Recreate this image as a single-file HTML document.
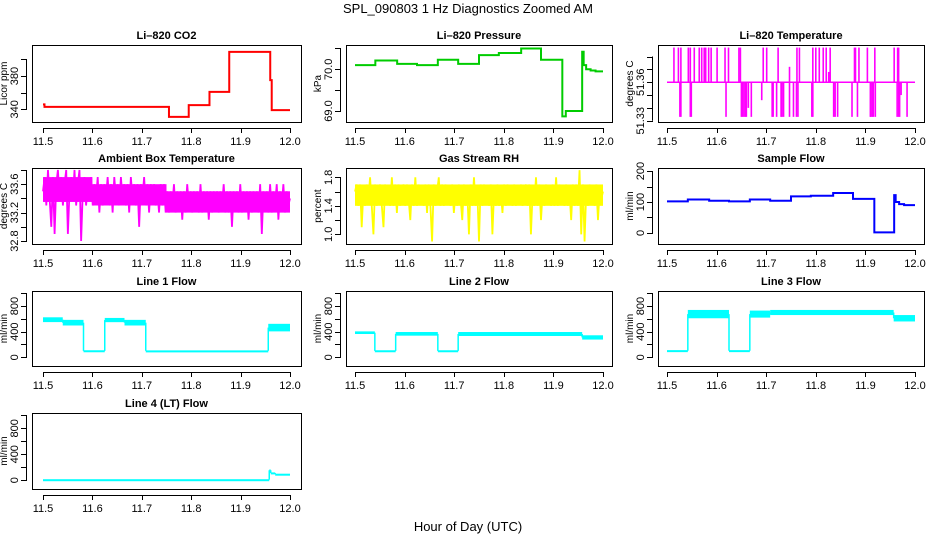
<!DOCTYPE html>
<html><head><meta charset="utf-8"><style>
body{margin:0;background:#fff}
svg{display:block;font-family:"Liberation Sans",sans-serif}
</style></head><body>
<svg id="c" width="936" height="540" viewBox="0 0 936 540">
<text x="468" y="13" text-anchor="middle" font-size="13">SPL_090803 1 Hz Diagnostics Zoomed AM</text>
<text x="468" y="531" text-anchor="middle" font-size="13">Hour of Day (UTC)</text>
</svg>
<script>
// ---- data ----
const xTicks=[11.5,11.6,11.7,11.8,11.9,12.0];
const xTickLabels=["11.5","11.6","11.7","11.8","11.9","12.0"];
const co2T=[11.5,11.503,11.755,11.795,11.837,11.877,11.96,11.963,12.0];
const co2V=[346,343,331,345,361,409,375,339];
const presT=[11.5,11.541,11.585,11.625,11.667,11.708,11.75,11.79,11.835,11.875,11.918,11.925,11.958,11.961,11.966,11.975,11.985,12.0];
const presV=[70.10,70.21,70.13,70.10,70.23,70.13,70.34,70.39,70.50,70.23,68.87,69.0,70.42,70.1,70.0,69.97,69.95];
const sampT=[11.5,11.542,11.585,11.625,11.667,11.708,11.75,11.79,11.835,11.875,11.918,11.958,11.961,11.968,11.978,12.0];
const sampV=[102,108,104,102,108,104,118,120,129,110,2,122,100,93,90];
const tempBase=[51.36];
const tempSpikeT=[11.514,11.523,11.528,11.543,11.547,11.555,11.565,11.570,11.575,11.578,11.584,11.589,11.601,11.617,11.624,11.645,11.648,11.694,11.701,11.724,11.747,11.762,11.767,11.794,11.800,11.807,11.815,11.821,11.826,11.829,11.878,11.880,11.887,11.904,11.919,11.958,11.965,11.967,
11.526,11.528,11.547,11.549,11.619,11.650,11.652,11.655,11.658,11.660,11.664,11.670,11.691,11.712,11.714,11.721,11.730,11.732,11.735,11.747,11.755,11.761,11.764,11.792,11.794,11.836,11.839,11.844,11.873,11.884,11.910,11.911,11.914,11.916,11.920,11.964,11.967,11.969,11.972,11.984];
const tempSpikeV=[51.387,51.387,51.387,51.387,51.387,51.387,51.387,51.387,51.387,51.387,51.387,51.387,51.387,51.387,51.387,51.387,51.387,51.387,51.387,51.387,51.372,51.387,51.387,51.387,51.387,51.387,51.387,51.387,51.368,51.387,51.387,51.387,51.387,51.387,51.387,51.387,51.387,51.387,
51.333,51.333,51.333,51.333,51.333,51.333,51.333,51.333,51.333,51.333,51.340,51.333,51.346,51.333,51.333,51.333,51.333,51.333,51.333,51.333,51.333,51.333,51.333,51.333,51.333,51.333,51.333,51.333,51.333,51.333,51.333,51.333,51.333,51.333,51.333,51.333,51.333,51.333,51.350,51.333];
const ambV=[33.5,33.7,33.3,33.8,33.4,33.0,33.7,32.9,33.6,33.8,33.4,33.7,33.3,33.6,33.8,32.9,33.5,33.7,33.4,33.8,33.3,33.6,33.8,32.8,33.5,33.7,33.3,33.6,33.4,33.7,
33.3,33.6,33.4,33.7,33.2,33.6,33.3,33.6,33.4,33.7,33.3,33.6,33.2,33.7,33.4,33.6,33.3,33.7,33.4,33.6,33.3,33.6,33.2,33.7,33.4,33.6,33.3,33.6,33.0,33.6,33.4,33.7,33.3,33.6,33.2,33.6,33.4,33.6,33.3,33.5,33.2,33.6,33.3,33.6,33.2,
33.5,33.2,33.5,33.3,33.6,33.2,33.5,33.3,33.5,33.1,33.5,33.2,33.6,33.3,33.5,33.2,33.5,33.3,33.5,33.2,33.6,33.2,33.5,33.3,33.5,33.1,33.5,33.2,33.5,33.3,33.5,33.2,33.5,33.3,33.6,33.2,33.5,33.2,33.5,33.0,33.5,33.3,33.5,33.2,33.6,33.2,33.5,33.3,33.5,33.1,33.5,33.2,33.5,33.3,33.5,33.2,33.6,32.9,33.5,33.3,33.5,33.2,33.6,33.2,33.5,33.3,33.6,33.1,33.5,33.3,33.6,33.2,33.5,33.3,33.4];
const ambCoreT=[11.5,11.6,11.75,12.0];
const ambCoreLo=[33.35,33.3,33.2];
const ambCoreHi=[33.7,33.6,33.5];
const rhV=[1.6,1.7,1.4,1.7,1.1,1.6,1.4,1.7,1.5,1.8,1.4,1.0,1.7,1.4,1.6,1.7,1.4,1.1,1.7,1.5,1.6,1.4,1.8,1.4,1.7,1.3,1.7,1.4,1.6,1.7,1.4,1.7,1.5,1.2,1.7,1.4,1.8,1.4,1.7,1.5,1.6,1.4,1.7,1.3,1.7,1.4,0.9,1.7,1.4,1.6,1.8,1.4,1.7,1.4,1.7,1.5,1.6,1.4,1.7,1.3,1.6,1.4,1.7,1.5,1.2,1.7,1.4,1.6,1.0,1.7,1.4,1.8,1.4,1.6,0.9,1.7,1.4,1.7,1.5,1.6,1.4,1.7,1.0,1.6,1.4,1.7,1.4,1.6,1.3,1.7,1.4,1.7,1.5,1.6,1.4,1.7,1.4,1.6,1.5,1.7,1.4,1.6,1.7,1.4,1.7,1.0,1.6,1.4,1.8,1.4,1.7,1.2,1.6,1.4,1.7,1.5,1.6,1.4,1.7,1.4,1.8,1.4,1.7,1.5,1.6,1.4,1.7,1.4,1.6,1.2,1.7,1.4,1.7,1.4,1.9,1.0,1.7,0.9,1.6,1.4,1.7,1.5,1.6,1.4,1.7,1.2,1.6,1.5,1.6];
const rhCoreT=[11.5,12.0];
const rhCoreLo=[1.4];
const rhCoreHi=[1.7];
const l1T=[11.5,11.54,11.582,11.625,11.665,11.708,11.956,12.0];
const l1Lo=[550,497,90,549,497,95,405];
const l1Hi=[625,585,110,615,585,108,523];
const l2T=[11.5,11.54,11.582,11.667,11.708,11.958,12.0];
const l2Lo=[364,90,338,90,333,277];
const l2Hi=[405,110,395,110,395,344];
const l3T=[11.5,11.542,11.625,11.667,11.708,11.957,12.0];
const l3Lo=[92,610,92,620,660,560];
const l3Hi=[112,740,112,730,740,660];
const l4T=[11.5,11.958,11.961,11.97,12.0];
const l4Lo=[0,140,100,85];
const l4Hi=[15,165,120,100];

// ---- layout ----
const NS="http://www.w3.org/2000/svg";
const svg=document.getElementById('c');
const colL=[32,346,658],colR=[301,612,924],colX0=[43,355,667],colX1=[290,603,915];
const rowT=[45,168,291,413],rowB=[122,244,366,489];
function mk(tag,attrs,parent){const e=document.createElementNS(NS,tag);for(const k in attrs)e.setAttribute(k,attrs[k]);(parent||svg).appendChild(e);return e;}

function panel(name,col,row,title,ylab,ylo,yhi,yt,ytl){
  const g=mk('g',{});
  
  
  const L=colL[col],R=colR[col],T=rowT[row],B=rowB[row];
  const x=v=>colX0[col]+(v-11.5)/0.5*(colX1[col]-colX0[col]);
  const y=v=>B-(v-ylo)/(yhi-ylo)*(B-T);
  const box=mk('rect',{x:L+0.5,y:T+0.5,width:R-L,height:B-T,fill:'none',stroke:'#000','stroke-width':1},g);
  
  
  const tt=mk('text',{x:(L+R)/2,y:T-6,'text-anchor':'middle','font-size':11,'font-weight':'bold'},g);
  tt.textContent=title;
  
  
  const xa=mk('g',{},g);
  
  
  mk('line',{x1:x(xTicks[0]),x2:x(xTicks[xTicks.length-1]),y1:B+6.5,y2:B+6.5,stroke:'#000'},xa);
  xTicks.forEach((v,i)=>{
    mk('line',{x1:Math.round(x(v))+0.5,x2:Math.round(x(v))+0.5,y1:B+6,y2:B+11,stroke:'#000'},xa);
    const t=mk('text',{x:x(v),y:B+23,'text-anchor':'middle','font-size':11},xa);
    t.textContent=xTickLabels[i];
    
    
  });
  const ya=mk('g',{},g);
  
  
  mk('line',{x1:L-5.5,x2:L-5.5,y1:y(yt[0]),y2:y(yt[yt.length-1]),stroke:'#000'},ya);
  yt.forEach((v,i)=>{
    mk('line',{x1:L-11,x2:L-5,y1:Math.round(y(v))+0.5,y2:Math.round(y(v))+0.5,stroke:'#000'},ya);
    if(ytl[i]){
      const t=mk('text',{x:L-14,y:y(v),'text-anchor':'middle','font-size':11,transform:`rotate(-90 ${L-14} ${y(v)})`},ya);
      t.textContent=ytl[i];
      
      
    }
  });
  const yl=mk('text',{x:L-25,y:(T+B)/2,'text-anchor':'middle','font-size':10,transform:`rotate(-90 ${L-25} ${(T+B)/2})`},g);
  yl.textContent=ylab;
  
  
  return {g,x,y};
}
function step(p,T,V,color,w,name){
  let d=`M${p.x(T[0])},${p.y(V[0])}`;
  for(let i=0;i<V.length;i++){d+=`H${p.x(T[i+1])}`;if(i+1<V.length)d+=`V${p.y(V[i+1])}`;}
  const e=mk('path',{d,fill:'none',stroke:color,'stroke-width':w},p.g);
  
  
}
function bands(p,T,Lo,Hi,color,name){
  const gg=mk('g',{},p.g);
  
  
  for(let i=0;i<Lo.length;i++){
    const x0=p.x(T[i]),x1=p.x(T[i+1]);
    mk('rect',{x:x0,y:p.y(Hi[i]),width:Math.max(1,x1-x0),height:Math.max(2,p.y(Lo[i])-p.y(Hi[i])),fill:color},gg);
    if(i+1<Lo.length){
      const a=p.y((Lo[i]+Hi[i])/2),b=p.y((Lo[i+1]+Hi[i+1])/2);
      mk('line',{x1:x1,x2:x1,y1:a,y2:b,stroke:color,'stroke-width':1.5},gg);
    }
  }
}
function zig(p,V,color,name){
  const n=V.length;
  const pts=V.map((v,i)=>`${p.x(11.5+i*0.5/(n-1))},${p.y(v)}`).join(' ');
  const e=mk('polyline',{points:pts,fill:'none',stroke:color,'stroke-width':1.8},p.g);
  
  
}

// Row 1
let p=panel('co2',0,0,'Li\u2013820 CO2','Licor ppm',324.8,417.2,[340,360,380,400],['340','','380','']);
step(p,co2T,co2V,'#ff0000',2,'co2-line');
p=panel('pressure',1,0,'Li\u2013820 Pressure','kPa',68.736,70.583,[69.0,69.5,70.0,70.5],['69.0','','70.0','']);
step(p,presT,presV,'#00cc00',2,'pressure-line');
p=panel('li820-temp',2,0,'Li\u2013820 Temperature','degrees C',51.329,51.389,[51.33,51.34,51.35,51.36,51.37,51.38],['51.33','','','51.36','','']);
{
  const gg=mk('g',{},p.g);
  
  
  mk('line',{x1:p.x(11.5),x2:p.x(12.0),y1:p.y(tempBase[0]),y2:p.y(tempBase[0]),stroke:'#ff00ff','stroke-width':1.5},gg);
  tempSpikeT.forEach((t,i)=>{
    mk('line',{x1:p.x(t),x2:p.x(t),y1:p.y(tempBase[0]),y2:p.y(tempSpikeV[i]),stroke:'#ff00ff','stroke-width':1.6},gg);
  });
}
// Row 2
p=panel('ambient-temp',0,1,'Ambient Box Temperature','degrees C',32.758,33.828,[32.8,33.0,33.2,33.4,33.6,33.8],['32.8','','33.2','','33.6','']);
bands(p,ambCoreT,ambCoreLo,ambCoreHi,'#ff00ff','ambient-temp-core');
zig(p,ambV,'#ff00ff','ambient-temp-line');
p=panel('rh',1,1,'Gas Stream RH','percent',0.864,1.931,[1.0,1.2,1.4,1.6,1.8],['1.0','','1.4','','1.8']);
bands(p,rhCoreT,rhCoreLo,rhCoreHi,'#ffff00','rh-core');
zig(p,rhV,'#ffff00','rh-line');
p=panel('sample-flow',2,1,'Sample Flow','ml/min',-35.5,209.7,[0,50,100,150,200],['0','','100','','200']);
step(p,sampT,sampV,'#0000ff',2,'sample-flow-line');
// Row 3
const fT=[0,200,400,600,800,1000],fL=['0','','400','','800',''];
p=panel('line1-flow',0,2,'Line 1 Flow','ml/min',-136,1036,fT,fL);
bands(p,l1T,l1Lo,l1Hi,'#00ffff','line1-flow-series');
p=panel('line2-flow',1,2,'Line 2 Flow','ml/min',-136,1036,fT,fL);
bands(p,l2T,l2Lo,l2Hi,'#00ffff','line2-flow-series');
p=panel('line3-flow',2,2,'Line 3 Flow','ml/min',-136,1036,fT,fL);
bands(p,l3T,l3Lo,l3Hi,'#00ffff','line3-flow-series');
// Row 4
p=panel('line4-flow',0,3,'Line 4 (LT) Flow','ml/min',-136,1036,fT,fL);
bands(p,l4T,l4Lo,l4Hi,'#00ffff','line4-flow-series');
</script>
</body></html>
